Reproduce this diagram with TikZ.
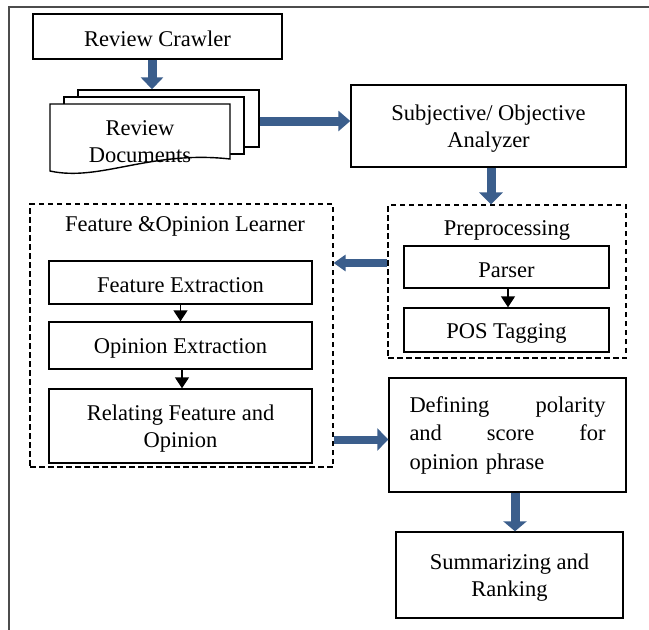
\documentclass[tikz,border=0pt]{standalone}
\usepackage{fontspec}
\setmainfont{Liberation Serif}
\usetikzlibrary{arrows.meta,calc}
\definecolor{blu}{HTML}{3B5E8C}
\newcommand\tstrut{\rule{0pt}{21pt}}
\begin{document}
\begin{tikzpicture}[x=1pt,y=-1pt,
  box/.style={draw, line width=1.4pt, inner sep=0pt, align=center, font=\fontsize{22.5}{27}\selectfont},
  dbox/.style={draw, dash pattern=on 5.5pt off 3.5pt, line width=1.2pt, inner sep=0pt},
  bigarrow/.style={draw=blu, line width=9pt, -{Triangle[width=23pt,length=12pt]}},
  blk/.style={line width=1.5pt, -{Triangle[width=14pt,length=11pt]}},
  lbl/.style={font=\fontsize{22.5}{27}\selectfont, inner sep=0pt}]
\useasboundingbox (0,0) rectangle (649,630);
\draw[line width=1.8pt, draw=black!70] (9,632) -- (9,7) -- (651,7);

% top
\node[box, minimum width=249pt, minimum height=45pt] (crawler) at (157.5,36.5) {\tstrut Review Crawler};
\node[box, fill=white, minimum width=181pt, minimum height=57pt] (docback) at (168.5,118.5) {};
\node[box, fill=white, minimum width=180pt, minimum height=57pt] (docmid) at (154,125.5) {};
\draw[fill=white, line width=1.4pt] (50,104) -- (230,104) -- (230,159) .. controls (150,150) and (100,182) .. (50,171) -- cycle;
\node[lbl, align=center] (docs) at (140,142) {Review\\Documents};
\node[box, minimum width=275pt, minimum height=82pt] (subj) at (488.5,126) {\tstrut Subjective/ Objective\\Analyzer};

% preprocessing
\node[dbox, minimum width=238pt, minimum height=153pt] (prep) at (507,281.5) {};
\node[lbl, anchor=base] (preptitle) at (507,235) {Preprocessing};
\node[box, minimum width=205pt, minimum height=42pt] (parser) at (506.5,267) {\tstrut Parser};
\node[box, minimum width=205pt, minimum height=44pt] (pos) at (506.5,330) {\tstrut POS Tagging};

% learner
\node[dbox, minimum width=303pt, minimum height=263pt] (learner) at (181.5,335.5) {};
\node[lbl, anchor=base] (learntitle) at (185,231) {Feature \&Opinion Learner};
\node[box, minimum width=263pt, minimum height=43pt] (fe) at (180.5,282.5) {\tstrut Feature Extraction};
\node[box, minimum width=263pt, minimum height=47pt] (oe) at (180.5,345.5) {\tstrut Opinion Extraction};
\node[box, minimum width=263pt, minimum height=74pt] (rel) at (180.5,426) {\tstrut Relating Feature and\\Opinion};

% right bottom
\node[box, minimum width=237pt, minimum height=114pt, text width=196pt, align=left, font=\fontsize{22.5}{28.5}\selectfont] (def) at (507.5,435) {Defining\hfill polarity\\and\hfill score\hfill for\\opinion phrase};
\node[box, minimum width=227pt, minimum height=86pt] (summ) at (509.5,575) {\tstrut Summarizing and\\Ranking};

% arrows
\draw[bigarrow, -{Triangle[width=22pt,length=12pt]}] ([xshift=-5.5pt]crawler.south) -- ([xshift=-5.5pt]crawler.south |- docback.north);
\draw[bigarrow, -{Triangle[width=20pt,length=12pt]}] ([yshift=-2.5pt]docback.east) -- ([yshift=-2.5pt]docback.east -| subj.west);
\draw[bigarrow] ([xshift=2.5pt]subj.south) -- ([xshift=2.5pt]subj.south |- prep.north);
\draw[bigarrow, line width=8pt, -{Triangle[width=16pt,length=12pt]}] ([yshift=18.5pt]prep.west) -- ([yshift=18.5pt]prep.west -| learner.east);
\draw[bigarrow, line width=8pt, -{Triangle[width=22pt,length=11pt]}] ([yshift=-104pt]learner.east) -- ([yshift=-104pt]learner.east -| def.west);
\draw[bigarrow, -{Triangle[width=23pt,length=10pt]}] ([xshift=7.5pt]def.south) -- ([xshift=7.5pt]def.south |- summ.north);
\draw[blk] ([xshift=1.5pt]parser.south) -- ([xshift=1.5pt]parser.south |- pos.north);
\draw[blk] (fe.south) -- (oe.north);
\draw[blk] ([xshift=1.5pt]oe.south) -- ([xshift=1.5pt]oe.south |- rel.north);
\end{tikzpicture}
\end{document}
